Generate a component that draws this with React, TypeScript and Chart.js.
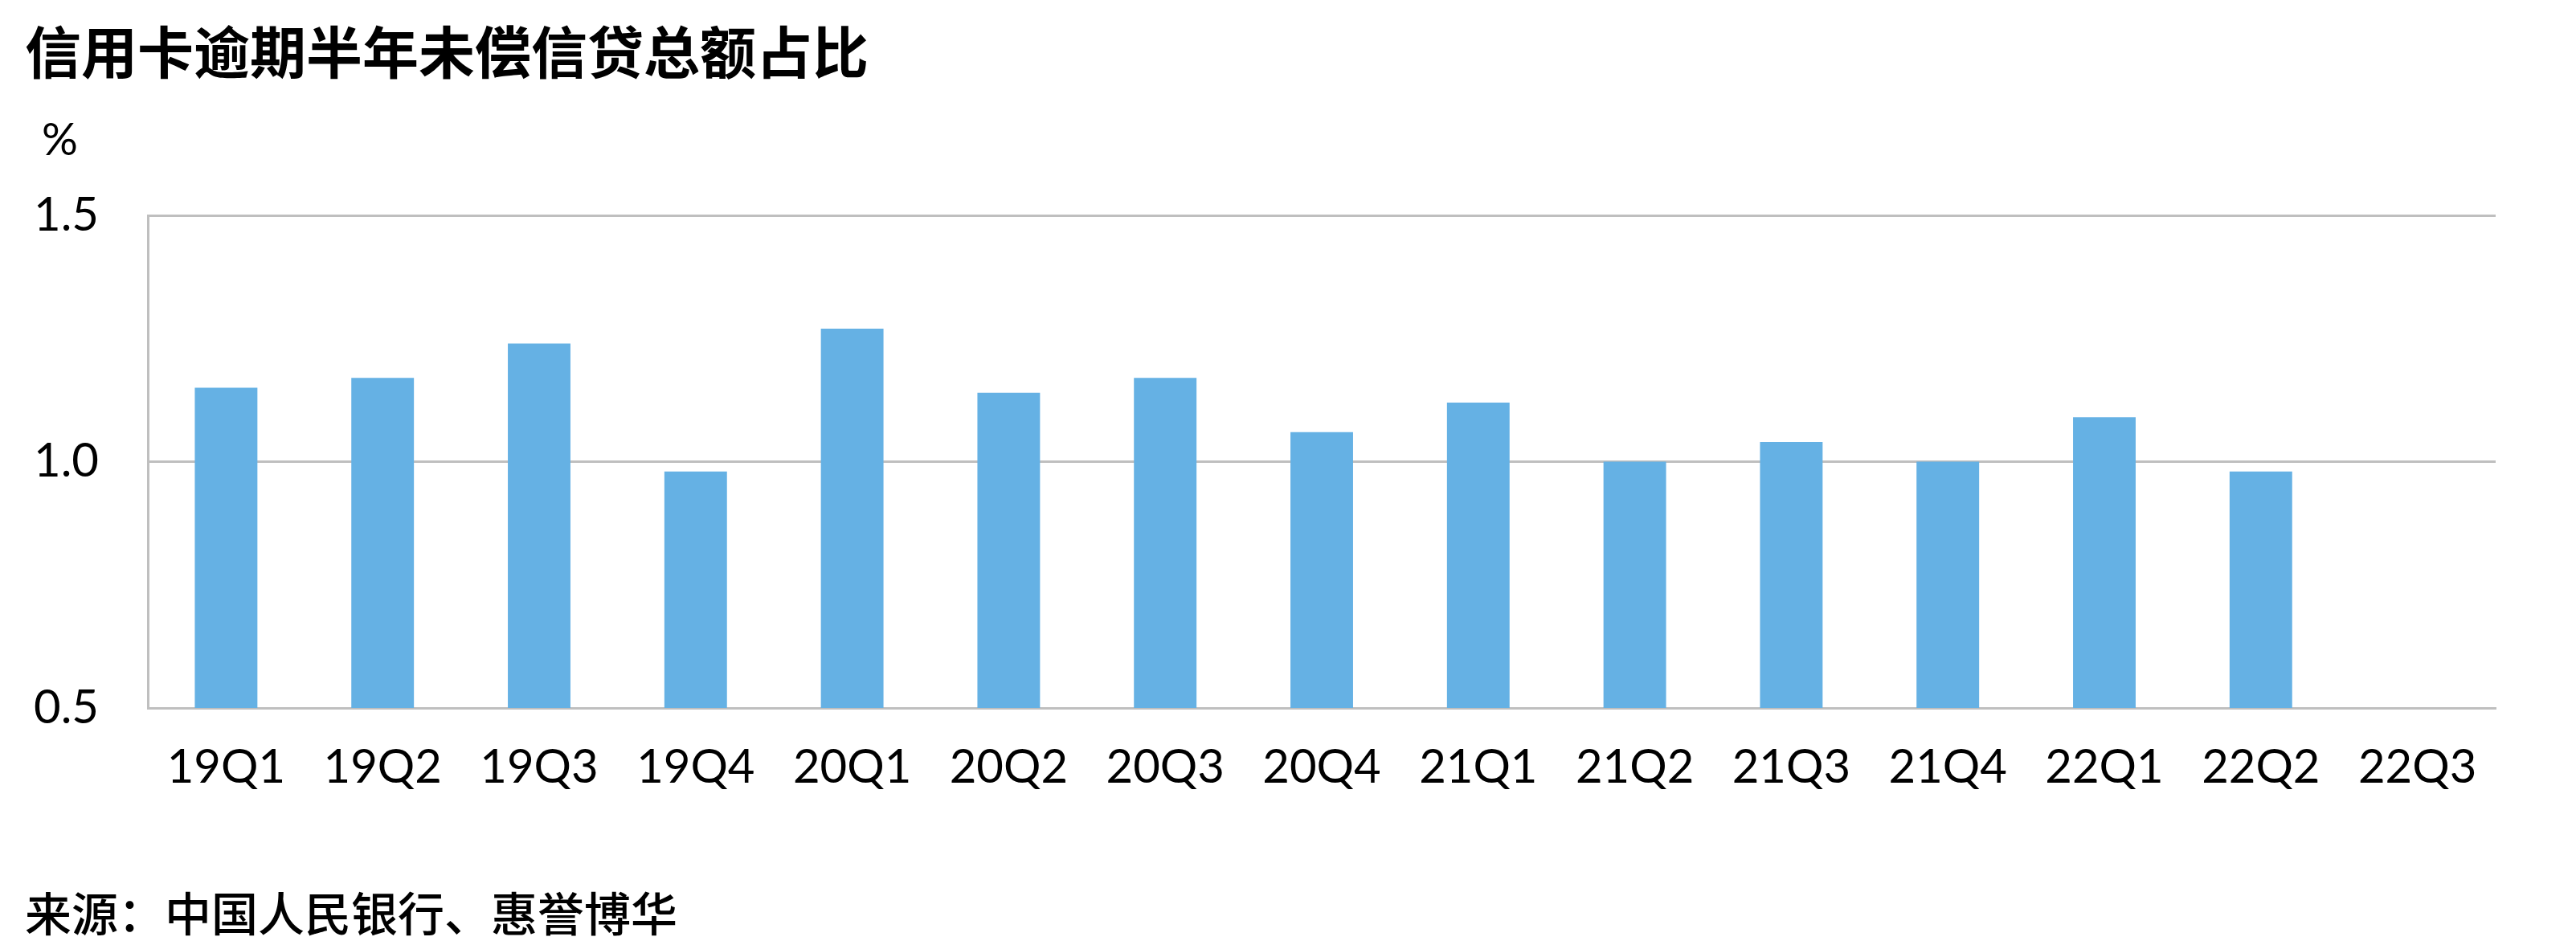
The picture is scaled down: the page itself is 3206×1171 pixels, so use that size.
import React, { useEffect, useRef } from "react";
import { Chart, registerables } from "chart.js";

Chart.register(...registerables);

const categories = ["19Q1", "19Q2", "19Q3", "19Q4", "20Q1", "20Q2", "20Q3", "20Q4", "21Q1", "21Q2", "21Q3", "21Q4", "22Q1", "22Q2", "22Q3"];
const shareValues: (number | null)[] = [1.15, 1.17, 1.24, 0.98, 1.27, 1.14, 1.17, 1.06, 1.12, 1.0, 1.04, 1.0, 1.09, 0.98, null];
const yTicks = [0.5, 1.0, 1.5];

const titleText = "信用卡逾期半年未偿信贷总额占比";
const unitText = "%";
const sourceText = "来源：中国人民银行、惠誉博华";

const W = 3206;
const H = 1171;
const PLOT_LEFT = 184;
const PLOT_RIGHT = 3106;
const PLOT_TOP = 268;
const PLOT_BOTTOM = 881;

export default function App() {
  const canvasRef = useRef<HTMLCanvasElement | null>(null);

  useEffect(() => {
    document.body.style.margin = "0";
    const canvas = canvasRef.current;
    if (!canvas) return;
    const chart = new Chart(canvas, {
      type: "bar",
      data: {
        labels: categories,
        datasets: [
          {
            label: titleText,
            data: shareValues,
            backgroundColor: "#65B1E4",
            borderWidth: 0,
            barPercentage: 0.4,
            categoryPercentage: 1,
          },
        ],
      },
      options: {
        responsive: false,
        animation: false,
        maintainAspectRatio: false,
        layout: { padding: { left: 0, right: W - PLOT_RIGHT, top: PLOT_TOP, bottom: 0 } },
        plugins: { legend: { display: false }, title: { display: false }, tooltip: { enabled: false } },
        scales: {
          x: {
            grid: { display: false, drawTicks: false },
            border: { display: true, color: "#BFBFBF", width: 3 },
            ticks: {
              color: "#000000",
              font: { family: "Lato", size: 58 },
              padding: 39,
              maxRotation: 0,
              autoSkip: false,
            },
            afterFit: (scale: any) => {
              scale.height = H - PLOT_BOTTOM;
            },
          },
          y: {
            min: 0.5,
            max: 1.5,
            afterBuildTicks: (scale: any) => {
              scale.ticks = yTicks.map((v) => ({ value: v }));
            },
            grid: { color: "#BFBFBF", lineWidth: 3, drawTicks: false },
            border: { display: true, color: "#BFBFBF", width: 3 },
            ticks: {
              color: "#000000",
              font: { family: "Lato", size: 58 },
              padding: 61,
              callback: (v: any) => Number(v).toFixed(1),
            },
            afterFit: (scale: any) => {
              scale.width = PLOT_LEFT;
            },
          },
        },
      },
    });
    return () => chart.destroy();
  }, []);

  return (
    <div style={{ position: "absolute", left: 0, top: 0, width: W, height: H, background: "#ffffff", overflow: "hidden" }}>
      <canvas ref={canvasRef} width={W} height={H} style={{ position: "absolute", left: 0, top: 0, width: W, height: H }} />
      <div
        style={{
          position: "absolute",
          left: 31,
          top: 27,
          fontFamily: "'Noto Sans CJK SC', sans-serif",
          fontWeight: 700,
          fontSize: 70,
          lineHeight: 1,
          color: "#000",
          whiteSpace: "nowrap",
        }}
      >
        {titleText}
      </div>
      <div
        style={{
          position: "absolute",
          left: 52,
          top: 144,
          fontFamily: "Lato, sans-serif",
          fontSize: 56,
          lineHeight: 1,
          color: "#000",
        }}
      >
        {unitText}
      </div>
      <div
        style={{
          position: "absolute",
          left: 31,
          top: 1105,
          fontFamily: "'Noto Sans CJK SC', sans-serif",
          fontWeight: 500,
          fontSize: 58,
          lineHeight: 1,
          color: "#000",
          whiteSpace: "nowrap",
        }}
      >
        {sourceText}
      </div>
    </div>
  );
}
